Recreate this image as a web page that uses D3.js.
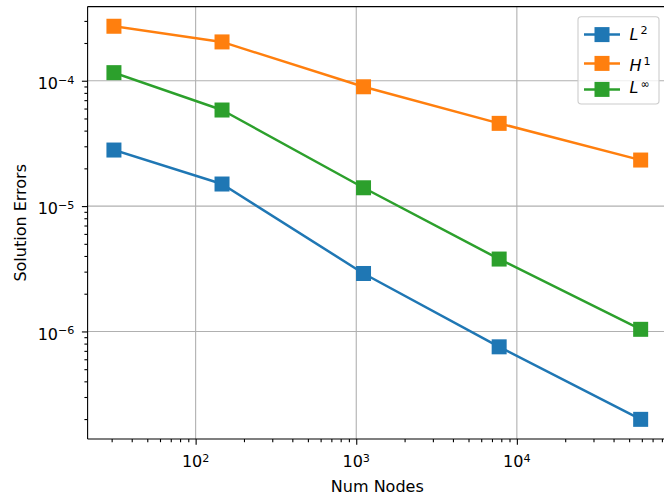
<!DOCTYPE html>
<html>
<head>
<meta charset="utf-8">
<script src="https://cdn.jsdelivr.net/npm/d3@7"></script>
<style>
  html, body { margin: 0; padding: 0; background: #fff; }
  svg { display: block; font-family: "DejaVu Sans", sans-serif; }
</style>
</head>
<body>
<svg id="chart" width="664" height="497"></svg>
<script>
// ---- data ----
const nodes = [31, 146, 1110, 7760, 59000];
const errL2 = [2.80e-5, 1.50e-5, 2.90e-6, 7.54e-7, 1.99e-7];
const errH1 = [2.72e-4, 2.04e-4, 8.95e-5, 4.57e-5, 2.33e-5];
const errLinf = [1.16e-4, 5.84e-5, 1.40e-5, 3.78e-6, 1.04e-6];
const seriesNames = [["L", "2"], ["H", "1"], ["L", "\u221E"]];
const seriesColors = ["#1f77b4", "#ff7f0e", "#2ca02c"];
const xMajorExp = [2, 3, 4];
const yMajorExp = [-4, -5, -6];
const xLabel = "Num Nodes";
const yLabel = "Solution Errors";

const series = [errL2, errH1, errLinf];

// ---- layout ----
const pLeft = 87.6, pRight = 667, pTop = 6.6, pBottom = 439;
const svg = d3.select("#chart");

function paddedLogDomain(vals) {
  const lo = Math.log10(d3.min(vals)), hi = Math.log10(d3.max(vals));
  const p = 0.05 * (hi - lo);
  return [Math.pow(10, lo - p), Math.pow(10, hi + p)];
}
const allY = [].concat(...series);
const x = d3.scaleLog().domain(paddedLogDomain(nodes)).range([pLeft, pRight]);
const y = d3.scaleLog().domain(paddedLogDomain(allY)).range([pBottom, pTop]);

// minor ticks
function minorTicks(scale) {
  const [a, b] = scale.domain();
  const lo = Math.min(a, b), hi = Math.max(a, b);
  const out = [];
  for (let e = Math.floor(Math.log10(lo)); e <= Math.ceil(Math.log10(hi)); e++) {
    for (let m = 2; m <= 9; m++) {
      const v = m * Math.pow(10, e);
      if (v >= lo && v <= hi) out.push(v);
    }
  }
  return out;
}
const xMajors = xMajorExp.map(e => Math.pow(10, e));
const yMajors = yMajorExp.map(e => Math.pow(10, e));

// ---- grid ----
const grid = svg.append("g").attr("stroke", "#b0b0b0").attr("stroke-width", 1.1);
grid.selectAll("line.gx").data(xMajors).join("line").attr("class", "gx")
  .attr("x1", d => x(d)).attr("x2", d => x(d)).attr("y1", pTop).attr("y2", pBottom);
grid.selectAll("line.gy").data(yMajors).join("line").attr("class", "gy")
  .attr("x1", pLeft).attr("x2", pRight).attr("y1", d => y(d)).attr("y2", d => y(d));

// ---- series ----
const line = d3.line().x(d => x(d[0])).y(d => y(d[1]));
const ms = 15;
series.forEach((vals, i) => {
  const pts = nodes.map((n, j) => [n, vals[j]]);
  const g = svg.append("g");
  g.append("path").datum(pts).attr("d", line)
    .attr("fill", "none").attr("stroke", seriesColors[i]).attr("stroke-width", 2.5)
    .attr("stroke-linejoin", "round").attr("stroke-linecap", "square");
  g.selectAll("rect").data(pts).join("rect")
    .attr("x", d => x(d[0]) - ms / 2).attr("y", d => y(d[1]) - ms / 2)
    .attr("width", ms).attr("height", ms).attr("fill", seriesColors[i]);
});

// ---- axes ----
const xAxisMajor = d3.axisBottom(x).tickValues(xMajors).tickSize(5.7).tickFormat("");
const xAxisMinor = d3.axisBottom(x).tickValues(minorTicks(x)).tickSize(3.2).tickFormat("");
const yAxisMajor = d3.axisLeft(y).tickValues(yMajors).tickSize(5.7).tickFormat("");
const yAxisMinor = d3.axisLeft(y).tickValues(minorTicks(y)).tickSize(3.2).tickFormat("");

function styleAxis(g) {
  g.select(".domain").remove();
  g.selectAll(".tick line").attr("stroke", "#000").attr("stroke-width", 1.1);
}
svg.append("g").attr("transform", `translate(0,${pBottom})`).call(xAxisMajor).call(styleAxis);
svg.append("g").attr("transform", `translate(0,${pBottom})`).call(xAxisMinor).call(styleAxis);
svg.append("g").attr("transform", `translate(${pLeft},0)`).call(yAxisMajor).call(styleAxis);
svg.append("g").attr("transform", `translate(${pLeft},0)`).call(yAxisMinor).call(styleAxis);

// spines
const sp = svg.append("g").attr("stroke", "#000").attr("stroke-width", 1.1);
sp.append("line").attr("x1", pLeft).attr("x2", pRight).attr("y1", pBottom).attr("y2", pBottom);
sp.append("line").attr("x1", pLeft).attr("x2", pRight).attr("y1", pTop).attr("y2", pTop);
sp.append("line").attr("x1", pLeft).attr("x2", pLeft).attr("y1", pTop).attr("y2", pBottom);
sp.append("line").attr("x1", pRight).attr("x2", pRight).attr("y1", pTop).attr("y2", pBottom);

// tick labels
xMajorExp.forEach(e => {
  const t = svg.append("text").attr("x", x(Math.pow(10, e))).attr("y", 467.3)
    .attr("text-anchor", "middle").attr("font-size", 16).attr("fill", "#000");
  t.append("tspan").text("10");
  t.append("tspan").attr("font-size", 11.2).attr("dy", -5.5).text(String(e));
});
yMajorExp.forEach(e => {
  const t = svg.append("text").attr("x", 74.5).attr("y", y(Math.pow(10, e)) + 8.3)
    .attr("text-anchor", "end").attr("font-size", 16).attr("fill", "#000");
  t.append("tspan").text("10");
  t.append("tspan").attr("font-size", 11.2).attr("dy", -5.5).text("\u2212" + Math.abs(e));
});

// axis labels
svg.append("text").attr("x", (pLeft + pRight) / 2).attr("y", 491.5)
  .attr("text-anchor", "middle").attr("font-size", 16).attr("fill", "#000").text(xLabel);
svg.append("text").attr("transform", `translate(25.5,${(pTop + pBottom) / 2}) rotate(-90)`)
  .attr("text-anchor", "middle").attr("font-size", 16).attr("fill", "#000").text(yLabel);

// ---- legend ----
const lg = svg.append("g");
lg.append("rect").attr("x", 578).attr("y", 16.7).attr("width", 81).attr("height", 87.3)
  .attr("rx", 3.2).attr("fill", "#fff").attr("fill-opacity", 0.8)
  .attr("stroke", "#cccccc").attr("stroke-width", 1.1);
const rowY = [34.6, 63.4, 89.4];
const textY = [39.8, 70.6, 93.4];
seriesNames.forEach((nm, i) => {
  lg.append("line").attr("x1", 584).attr("x2", 620).attr("y1", rowY[i]).attr("y2", rowY[i])
    .attr("stroke", seriesColors[i]).attr("stroke-width", 2.5);
  lg.append("rect").attr("x", 602 - ms / 2).attr("y", rowY[i] - ms / 2)
    .attr("width", ms).attr("height", ms).attr("fill", seriesColors[i]);
  const t = lg.append("text").attr("x", 629.5).attr("y", textY[i])
    .attr("font-size", 16).attr("fill", "#000");
  t.append("tspan").attr("font-style", "italic").text(nm[0]);
  t.append("tspan").attr("font-size", 11.2).attr("dx", 2).attr("dy", -5.5).text(nm[1]);
});
</script>
</body>
</html>
